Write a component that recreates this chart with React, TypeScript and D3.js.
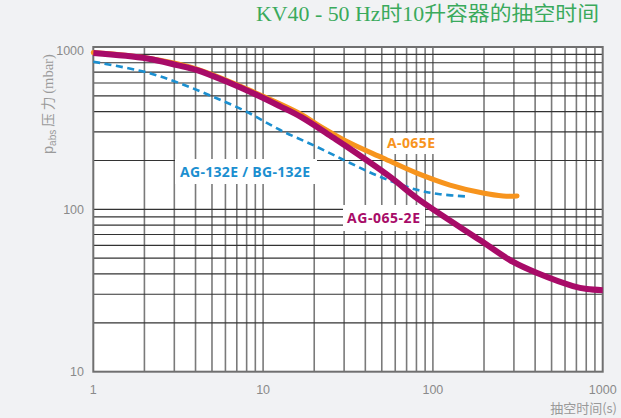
import React from "react";
import * as d3 from "d3";

const titleText = "KV40 - 50 Hz时10升容器的抽空时间";
const xTicks = [1, 10, 100, 1000];
const yTicks = [10, 100, 1000];

// AG-065-2E
const ag0652eTime = [1, 2.07, 3.11, 4.08, 6.38, 9.2, 12.6, 16.7, 25.8, 31.2, 55.8, 81.6, 189, 297, 411, 668, 808, 1000];
const ag0652ePressure = [918, 850, 774, 721, 600, 506, 431, 371, 277, 243, 159, 116, 64.7, 47.4, 40.5, 33.7, 32.3, 31.8];

// A-065E
const a065eTime = [1, 2.07, 4.08, 9.2, 16.7, 21.6, 32.5, 50.8, 80.5, 126, 197, 259, 313];
const a065ePressure = [925, 855, 731, 517, 386, 326, 256, 207, 167, 141, 126, 121, 121];

// AG-132E / BG-132E
const ag132eTime = [1, 2.06, 3.24, 5.07, 8.0, 12.6, 20.7, 32.5, 50.8, 80.3, 110, 158];
const ag132ePressure = [812, 698, 597, 494, 399, 308, 243, 193, 156, 132, 124, 120];

const W = 621;
const H = 418;
const left = 93.3;
const right = 602.7;
const top = 47;
const bottom = 371.7;

export default function App() {
  const x = d3.scaleLog().domain([1, 1000]).range([left, right]);
  const y = d3.scaleLog().domain([10, 1000]).range([bottom, top]);

  const line = (ts: number[], ps: number[]) =>
    d3
      .line<number>()
      .x((_, i) => x(ts[i]))
      .y((_, i) => y(ps[i]))
      .curve(d3.curveCatmullRom.alpha(0.5))(ts) || "";

  const vLines: number[] = [];
  for (let k = 0; k < 3; k++) {
    for (let m = 2; m <= 9; m++) vLines.push(m * Math.pow(10, k));
  }
  [10, 100].forEach((v) => vLines.push(v));
  const hLines: number[] = [];
  for (let k = 1; k < 3; k++) {
    for (let m = 2; m <= 9; m++) hLines.push(m * Math.pow(10, k));
  }
  hLines.push(100);

  const tickFont = "'Liberation Sans', Arial, sans-serif";
  const labelFont = "'Open Sans', 'Noto Sans', sans-serif";
  const cjk = "'Noto Sans CJK SC', sans-serif";

  return (
    <svg
      width={W}
      height={H}
      style={{ position: "absolute", left: 0, top: 0, display: "block" }}
    >
      <rect x={0} y={0} width={W} height={H} fill="#f1f2f4" />
      <text
        x={256}
        y={21}
        fill="#3aaa5c"
        fontSize={20}
        fontFamily={"'Liberation Serif', 'Times New Roman', 'Noto Sans CJK SC', serif"}
        textLength={343}
        lengthAdjust="spacingAndGlyphs"
      >
        {titleText}
      </text>

      <rect x={left} y={top} width={right - left} height={bottom - top} fill="#ffffff" />

      {vLines.map((v, i) => (
        <line key={"v" + i} x1={x(v)} x2={x(v)} y1={top} y2={bottom} stroke="#7a7a7a" strokeWidth={1.6} />
      ))}
      {hLines.map((v, i) => (
        <line key={"h" + i} x1={left} x2={right} y1={y(v)} y2={y(v)} stroke="#333333" strokeWidth={1.2} />
      ))}
      <rect x={left} y={top} width={right - left} height={bottom - top} fill="none" stroke="#707070" strokeWidth={2} />

      {/* label boxes */}
      <rect x={175} y={159} width={142} height={25} fill="#ffffff" />
      <rect x={343} y={205} width={82} height={26} fill="#ffffff" />
      <rect x={383} y={133} width={56} height={21} fill="#ffffff" />

      <path d={line(ag132eTime, ag132ePressure)} fill="none" stroke="#1b8fd0" strokeWidth={2.6} strokeDasharray="7,4.5" />
      <path d={line(a065eTime, a065ePressure)} fill="none" stroke="#f7941d" strokeWidth={5} strokeLinecap="round" />
      <path d={line(ag0652eTime, ag0652ePressure)} fill="none" stroke="#a80b68" strokeWidth={6} />

      <text x={180} y={177} fill="#1b8fd0" fontSize={14} fontWeight={700} fontFamily={labelFont} textLength={130} lengthAdjust="spacing">
        AG-132E / BG-132E
      </text>
      <text x={347} y={223} fill="#a80b68" fontSize={14} fontWeight={700} fontFamily={labelFont} textLength={73} lengthAdjust="spacing">
        AG-065-2E
      </text>
      <text x={387} y={148} fill="#f7941d" fontSize={14} fontWeight={700} fontFamily={labelFont} textLength={48} lengthAdjust="spacing">
        A-065E
      </text>

      {yTicks.map((t) => (
        <text
          key={"yt" + t}
          x={84}
          y={t === 1000 ? y(t) + 4 : y(t)}
          dy="0.35em"
          textAnchor="end"
          fill="#8a8a8a"
          fontSize={12.5}
          fontFamily={tickFont}
        >
          {t}
        </text>
      ))}
      {xTicks.map((t) => (
        <text
          key={"xt" + t}
          x={x(t)}
          y={390}
          dy="0.35em"
          textAnchor="middle"
          fill="#8a8a8a"
          fontSize={12.5}
          fontFamily={tickFont}
        >
          {t}
        </text>
      ))}
      <text x={617} y={413} textAnchor="end" fill="#999999" fontSize={13} fontFamily={cjk}>
        抽空时间(s)
      </text>

      <g transform="translate(53,154) rotate(-90)">
        <text x={0} y={0} fill="#9a9a9a" fontSize={14.5} fontFamily={"'Liberation Sans', Arial, sans-serif"}>
          p
          <tspan fontSize={10} dy={3}>abs</tspan>
          <tspan dy={-3} fontFamily={cjk} fontSize={13.5}> 压 力 </tspan>
          <tspan fontFamily={"'Liberation Serif', serif"} fontSize={14.5}>(mbar)</tspan>
        </text>
      </g>
    </svg>
  );
}
